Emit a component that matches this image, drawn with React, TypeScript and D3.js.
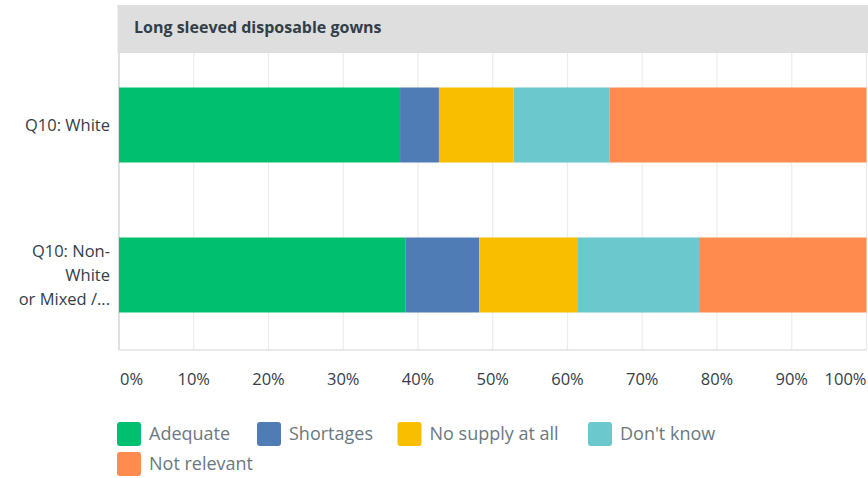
import React from "react";
import * as d3 from "d3";

const title = "Long sleeved disposable gowns";
const categories = ["Q10: White", "Q10: Non-White or Mixed /..."];
const categoryLines = [["Q10: White"], ["Q10: Non-", "White", "or Mixed /..."]];
const seriesNames = ["Adequate", "Shortages", "No supply at all", "Don't know", "Not relevant"];
const seriesColors = ["#00bf6f", "#507cb6", "#f9be00", "#6bc8cd", "#ff8b4f"];
const adequate = [37.6, 38.3];
const shortages = [5.2, 9.9];
const noSupply = [10.0, 13.1];
const dontKnow = [12.8, 16.3];
const notRelevant = [34.4, 22.4];
const ticks = [0, 10, 20, 30, 40, 50, 60, 70, 80, 90, 100];

const W = 868;
const H = 478;
const x0 = 119;
const x1 = 866.5;
const yTop = 53;
const yBottom = 350;
const FONT = "'Open Sans', sans-serif";

export default function App() {
  const x = d3.scaleLinear().domain([0, 100]).range([x0, x1]);
  const y = d3.scaleBand().domain(categories).range([50, 350]).paddingInner(0.5).paddingOuter(0.25);
  const rows = categories.map((c, i) => ({
    cat: c,
    Adequate: adequate[i],
    Shortages: shortages[i],
    "No supply at all": noSupply[i],
    "Don't know": dontKnow[i],
    "Not relevant": notRelevant[i],
  }));
  const stack = d3.stack<any>().keys(seriesNames)(rows);

  const legendRows = [
    [
      { i: 0, x: 117 },
      { i: 1, x: 257 },
      { i: 2, x: 397.5 },
      { i: 3, x: 588 },
    ],
    [{ i: 4, x: 117 }],
  ];

  return (
    <svg width={W} height={H} style={{ position: "absolute", left: 0, top: 0, display: "block" }}>
      <rect x={0} y={0} width={W} height={H} fill="#ffffff" />
      <rect x={117.5} y={5} width={W - 117.5} height={48} fill="#dedede" />
      <text x={134} y={33} fontFamily={FONT} fontSize={16} fontWeight={700} fill="#333e48">
        {title}
      </text>
      {ticks.map((t) => (
        <line key={t} x1={x(t)} x2={x(t)} y1={yTop} y2={yBottom} stroke="#ececec" strokeWidth={1.2} />
      ))}
      <line x1={x0} x2={x0} y1={yTop} y2={yBottom} stroke="#d3d3d3" strokeWidth={1.2} />
      <line x1={x0} x2={x1} y1={yBottom} y2={yBottom} stroke="#d3d3d3" strokeWidth={1.2} />
      {stack.map((s, si) =>
        s.map((d, di) => (
          <rect
            key={si + "-" + di}
            x={x(d[0])}
            y={y(categories[di])}
            width={x(d[1]) - x(d[0])}
            height={y.bandwidth()}
            fill={seriesColors[si]}
          />
        ))
      )}
      {categories.map((c, i) => {
        const lines = categoryLines[i];
        const cy = (y(c) as number) + y.bandwidth() / 2;
        const lh = 24;
        const start = cy - ((lines.length - 1) * lh) / 2;
        return lines.map((l, li) => (
          <text
            key={c + li}
            x={110}
            y={start + li * lh}
            dy="0.35em"
            textAnchor="end"
            fontFamily={FONT}
            fontSize={16.5}
            fill="#333e48"
          >
            {l}
          </text>
        ));
      })}
      {ticks.map((t, i) => (
        <text
          key={"t" + t}
          x={i === 0 ? x0 + 1 : i === ticks.length - 1 ? x1 : x(t)}
          y={379}
          dy="0.35em"
          textAnchor={i === 0 ? "start" : i === ticks.length - 1 ? "end" : "middle"}
          fontFamily={FONT}
          fontSize={16.5}
          fill="#333e48"
        >
          {t + "%"}
        </text>
      ))}
      {legendRows.map((row, ri) =>
        row.map((it) => (
          <g key={"l" + it.i}>
            <rect x={it.x} y={422 + ri * 30} width={24} height={24} rx={3} fill={seriesColors[it.i]} />
            <text
              x={it.x + 32}
              y={434 + ri * 30}
              dy="0.35em"
              fontFamily={FONT}
              fontSize={18}
              fill="#6b787f"
            >
              {seriesNames[it.i]}
            </text>
          </g>
        ))
      )}
    </svg>
  );
}
